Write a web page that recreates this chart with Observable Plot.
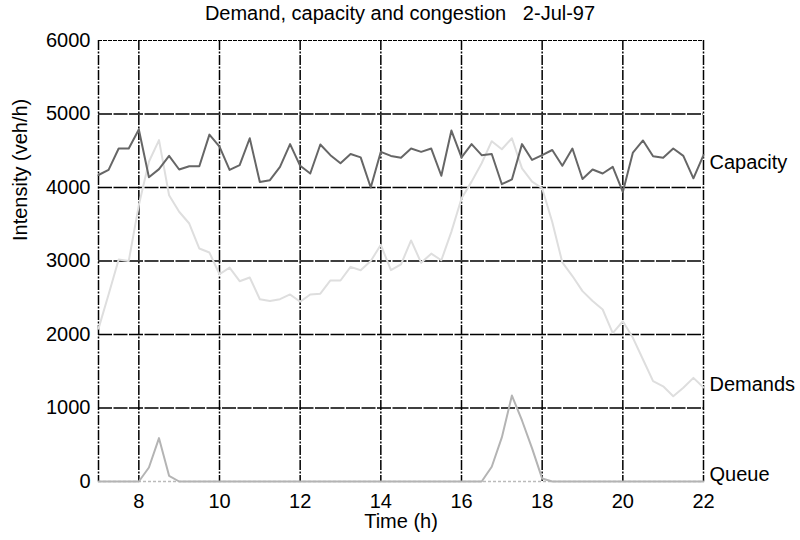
<!DOCTYPE html>
<html>
<head>
<meta charset="utf-8">
<script src="https://cdn.jsdelivr.net/npm/d3@7"></script>
<script src="https://cdn.jsdelivr.net/npm/@observablehq/plot@0.6"></script>
<style>
  html, body { margin: 0; padding: 0; background: #fff; }
  #title { font-family: "Liberation Sans", Arial, sans-serif; font-size: 20px; text-align: center;
           height: 24px; line-height: 24px; padding-top: 1px; white-space: pre; color: #000; width: 800px; }
</style>
</head>
<body>
<div id="title">Demand, capacity and congestion   2-Jul-97</div>
<div id="chart"></div>
<script>
const times = [7, 7.25, 7.5, 7.75, 8, 8.25, 8.5, 8.75, 9, 9.25, 9.5, 9.75,
  10, 10.25, 10.5, 10.75, 11, 11.25, 11.5, 11.75, 12, 12.25, 12.5, 12.75,
  13, 13.25, 13.5, 13.75, 14, 14.25, 14.5, 14.75, 15, 15.25, 15.5, 15.75,
  16, 16.25, 16.5, 16.75, 17, 17.25, 17.5, 17.75, 18, 18.25, 18.5, 18.75,
  19, 19.25, 19.5, 19.75, 20, 20.25, 20.5, 20.75, 21, 21.25, 21.5, 21.75, 22];

const capacity = [4170, 4240, 4530, 4530, 4790, 4140, 4250, 4430, 4245, 4290, 4290, 4720,
  4555, 4240, 4305, 4670, 4075, 4100, 4280, 4590, 4295, 4190, 4585, 4440,
  4330, 4455, 4410, 4000, 4485, 4430, 4405, 4530, 4485, 4530, 4160, 4775,
  4410, 4590, 4440, 4455, 4045, 4110, 4590, 4375, 4440, 4510, 4295, 4530,
  4115, 4245, 4190, 4280, 3940, 4475, 4640, 4425, 4405, 4530, 4430, 4125, 4440];

const demand = [2080, 2545, 3020, 3000, 3760, 4350, 4645, 3895, 3670, 3510, 3170, 3115,
  2820, 2910, 2725, 2775, 2480, 2455, 2480, 2545, 2445, 2545, 2555, 2735,
  2735, 2920, 2875, 3000, 3220, 2875, 2955, 3280, 2975, 3100, 3010, 3400,
  3850, 4080, 4330, 4630, 4520, 4670, 4260, 4080, 3990, 3530, 2980, 2795,
  2590, 2455, 2340, 2020, 2180, 1955, 1660, 1365, 1295, 1160, 1275, 1410, 1280];

const queue = [0, 0, 0, 0, 0, 190, 590, 77, 0, 0, 0, 0,
  0, 0, 0, 0, 0, 0, 0, 0, 0, 0, 0, 0,
  0, 0, 0, 0, 0, 0, 0, 0, 0, 0, 0, 0,
  0, 0, 0, 200, 600, 1170, 830, 450, 40, 0, 0, 0,
  0, 0, 0, 0, 0, 0, 0, 0, 0, 0, 0, 0, 0];

const seriesNames = ["Capacity", "Demands", "Queue"];
const xTicks = [8, 10, 12, 14, 16, 18, 20, 22];
const yTicks = [0, 1000, 2000, 3000, 4000, 5000, 6000];
const xTitle = "Time (h)";
const yTitle = "Intensity (veh/h)";

const toRows = (vals) => times.map((t, i) => ({t, v: vals[i]}));
const capRows = toRows(capacity);
const demRows = toRows(demand);
const queRows = toRows(queue);

const colors = {Capacity: "#666666", Demands: "#dedede", Queue: "#b4b4b4"};
const seriesVals = [capacity, demand, queue];
const endLabels = seriesNames.map((name, i) => ({
  name, t: times[times.length - 1], v: seriesVals[i][seriesVals[i].length - 1]
}));
const labelDy = {Capacity: 7, Demands: -3, Queue: -7};

const vGrid = [7].concat(xTicks);
const hGrid = yTicks.filter(d => d > 0 && d < 6000);
const topLine = yTicks.filter(d => d === 6000);

const chart = Plot.plot({
  width: 800,
  height: 515,
  marginTop: 15,
  marginLeft: 98,
  marginRight: 97,
  marginBottom: 59,
  style: {fontFamily: "'Liberation Sans', Arial, sans-serif", fontSize: "20px", background: "#fff", color: "#000", overflow: "visible"},
  x: {domain: [7, 22]},
  y: {domain: [0, 6000]},
  marks: [
    Plot.ruleY([0], {stroke: "#bbb", strokeWidth: 1.5, strokeDasharray: "3,2"}),
    Plot.ruleX(vGrid, {stroke: "#000", strokeWidth: 1.5, strokeDasharray: "10,1.5,2,1.5"}),
    Plot.ruleY(hGrid, {stroke: "#000", strokeWidth: 1.6, strokeDasharray: "14,1.5"}),
    Plot.ruleY(topLine, {stroke: "#000", strokeWidth: 1.2, strokeDasharray: "4,1"}),
    Plot.line(demRows, {x: "t", y: "v", stroke: colors.Demands, strokeWidth: 2}),
    Plot.line(capRows, {x: "t", y: "v", stroke: colors.Capacity, strokeWidth: 2}),
    Plot.line(queRows, {x: "t", y: "v", stroke: colors.Queue, strokeWidth: 2}),
    Plot.axisX({ticks: xTicks, tickSize: 0, tickPadding: 12, label: null, tickFormat: d => String(d)}),
    Plot.axisY({ticks: yTicks, tickSize: 0, tickPadding: 8, label: null, tickFormat: d => String(d)}),
    ...endLabels.map(d => Plot.text([d], {x: "t", y: "v", text: "name", textAnchor: "start", dx: 6, dy: labelDy[d.name], fill: "#000"})),
    Plot.text([xTitle], {frameAnchor: "bottom", dy: 46, fill: "#000"}),
    Plot.text([yTitle], {frameAnchor: "left", dx: -78, dy: -20, rotate: -90, fill: "#000"})
  ]
});
document.getElementById("chart").appendChild(chart);
</script>
</body>
</html>
